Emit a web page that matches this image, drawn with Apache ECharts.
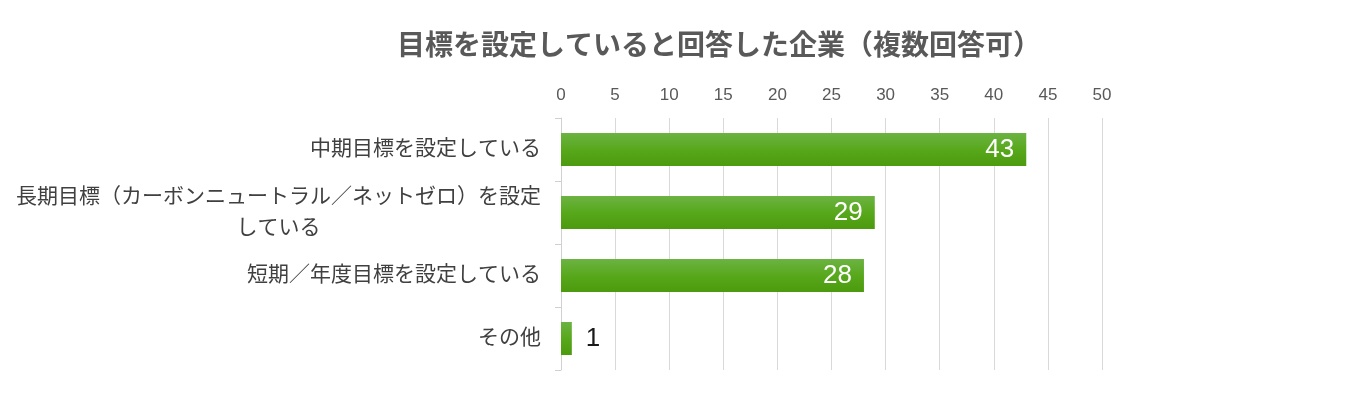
<!DOCTYPE html>
<html>
<head>
<meta charset="utf-8">
<script src="https://cdn.jsdelivr.net/npm/echarts@6/dist/echarts.min.js"></script>
<style>
html,body{margin:0;padding:0;background:#fff;}
#main{width:1372px;height:411px;}
</style>
</head>
<body>
<div id="main"></div>
<script>
var titleText = '目標を設定していると回答した企業（複数回答可）'
var categories = [
    '中期目標を設定している',
    '長期目標（カーボンニュートラル／ネットゼロ）を設定\nしている',
    '短期／年度目標を設定している',
    'その他'
]
var values = [43, 29, 28, 1]
var axisMax = 50
var axisStep = 5

var font = '"Liberation Sans", "Noto Sans CJK JP", sans-serif'
var myChart = echarts.init(document.getElementById('main'))

var barData = []
for (var i = 0; i < values.length; i++) {
    var big = values[i] > 3
    barData.push({
        value: values[i],
        label: {
            position: big ? 'insideRight' : 'right',
            color: big ? '#ffffff' : '#1a1a1a',
            distance: big ? 12 : 14
        }
    })
}

var option = {
    backgroundColor: '#fff',
    title: {
        text: titleText,
        left: 392,
        top: 28,
        textStyle: {
            fontFamily: font,
            fontSize: 28,
            fontWeight: 'bold',
            color: '#595959'
        }
    },
    grid: {
        left: 561,
        right: 270,
        top: 118,
        bottom: 41
    },
    xAxis: {
        type: 'value',
        position: 'top',
        min: 0,
        max: axisMax,
        interval: axisStep,
        axisLine: {show: false},
        axisTick: {show: false},
        axisLabel: {
            color: '#595959',
            fontSize: 17,
            fontFamily: font,
            margin: 14
        },
        splitLine: {
            lineStyle: {color: '#d9d9d9', width: 1}
        }
    },
    yAxis: {
        type: 'category',
        inverse: true,
        data: categories,
        axisLine: {lineStyle: {color: '#d0d0d0'}},
        axisTick: {show: true, length: 6, lineStyle: {color: '#d0d0d0'}},
        axisLabel: {
            color: '#404040',
            fontSize: 21,
            fontFamily: font,
            margin: 20,
            lineHeight: 31,
            formatter: function (v) {
                var parts = v.split('\n')
                if (parts.length < 2) return v
                return parts[0] + '\n{c|' + parts[1] + '}'
            },
            rich: {
                c: {
                    width: 525,
                    align: 'center',
                    color: '#404040',
                    fontSize: 21,
                    fontFamily: font,
                    lineHeight: 31
                }
            }
        }
    },
    series: [{
        type: 'bar',
        data: barData,
        barWidth: 33,
        itemStyle: {
            color: new echarts.graphic.LinearGradient(0, 0, 0, 1, [
                {offset: 0, color: '#6cb343'},
                {offset: 0.5, color: '#58a81c'},
                {offset: 1, color: '#4c9a0e'}
            ])
        },
        label: {
            show: true,
            fontSize: 26,
            fontFamily: font
        }
    }]
}
myChart.setOption(option)
</script>
</body>
</html>
